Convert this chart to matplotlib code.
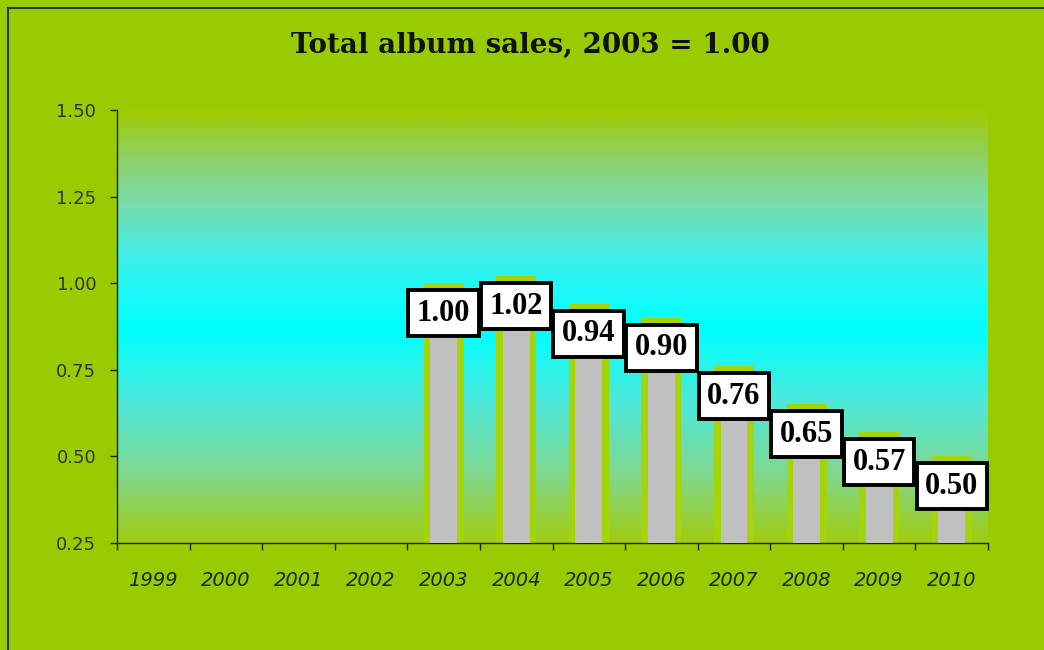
import numpy as np
import matplotlib
matplotlib.use("Agg")
import matplotlib.pyplot as plt
from matplotlib.colors import LinearSegmentedColormap
from matplotlib.lines import Line2D

# data (2003 = 1.00, no values before 2003)
years = ["1999", "2000", "2001", "2002", "2003", "2004",
         "2005", "2006", "2007", "2008", "2009", "2010"]
sales = [np.nan, np.nan, np.nan, np.nan, 1.00, 1.02,
         0.94, 0.90, 0.76, 0.65, 0.57, 0.50]
labels = ["", "", "", "", "1.00", "1.02", "0.94", "0.90", "0.76", "0.65", "0.57", "0.50"]

bg = "#99cc00"
fig = plt.figure(figsize=(10.44, 6.5), dpi=100, facecolor=bg)
ax = fig.add_axes([117 / 1044, 1 - 543 / 650, 871 / 1044, 433 / 650])

# gradient plot area: green -> cyan -> green (stops)
stops = [(0.0, "#a0cc10"), (0.16, "#80d890"), (0.32, "#50e8d8"), (0.49, "#00ffff"),
         (0.59, "#20f8f8"), (0.665, "#40f0e8"), (0.78, "#78dcb0"), (0.9, "#90d060"),
         (1.0, "#a0cc00")]
cmap = LinearSegmentedColormap.from_list("grad", stops)
grad = np.linspace(0, 1, 256).reshape(-1, 1)
ax.imshow(grad, aspect="auto", cmap=cmap, origin="lower",
          extent=[0, 1, 0, 1], transform=ax.transAxes, zorder=0)

x = np.arange(len(years))
vals = np.array(sales)
ax.bar(x, vals, width=0.55, color="#a6d40a", zorder=2)
ax.bar(x, vals - 0.02, width=0.37, color="#c0c0c0", zorder=3)

for xi, v, lab in zip(x, vals, labels):
    if np.isnan(v):
        continue
    ax.annotate(lab, (xi, v), xytext=(0, -21.5), textcoords="offset points",
                ha="center", va="center", fontsize=22, fontweight="bold",
                family="Liberation Serif", color="black", zorder=5,
                bbox=dict(boxstyle="square,pad=0.28", facecolor="white",
                          edgecolor="black", linewidth=2.8))

ax.set_xlim(-0.5, len(years) - 0.5)
ax.set_ylim(0.25, 1.5)
ax.set_yticks([0.25, 0.50, 0.75, 1.00, 1.25, 1.50])
ax.set_yticklabels(["0.25", "0.50", "0.75", "1.00", "1.25", "1.50"])
ax.set_xticks(np.arange(len(years) + 1) - 0.5)
ax.set_xticklabels([])
ax.set_xticks(x, minor=True)
ax.set_xticklabels(years, minor=True, fontsize=14, style="italic", color="#1a2a10")
ax.tick_params(axis="x", which="major", direction="out", length=5, width=1, color="#222222")
ax.tick_params(axis="x", which="minor", length=0, pad=20)
ax.tick_params(axis="y", direction="out", length=5, width=1, color="#222222",
               labelsize=13, labelcolor="#333333", pad=10)

for s in ["top", "right"]:
    ax.spines[s].set_visible(False)
for s in ["left", "bottom"]:
    ax.spines[s].set_color("#222222")
    ax.spines[s].set_linewidth(1)
ax.set_facecolor("none")

fig.text(530 / 1044, 1 - 45 / 650, "Total album sales, 2003 = 1.00",
         ha="center", va="center", fontsize=20, fontweight="bold",
         family="DejaVu Serif", color="#111111")

# outer frame lines (left and top)
fig.add_artist(Line2D([8 / 1044, 8 / 1044], [0, 1 - 8 / 650], color="#2a3a20", lw=1.5))
fig.add_artist(Line2D([8 / 1044, 1], [1 - 8 / 650, 1 - 8 / 650], color="#2a3a20", lw=1.5))

fig.savefig("out.png", dpi=100, facecolor=bg)
